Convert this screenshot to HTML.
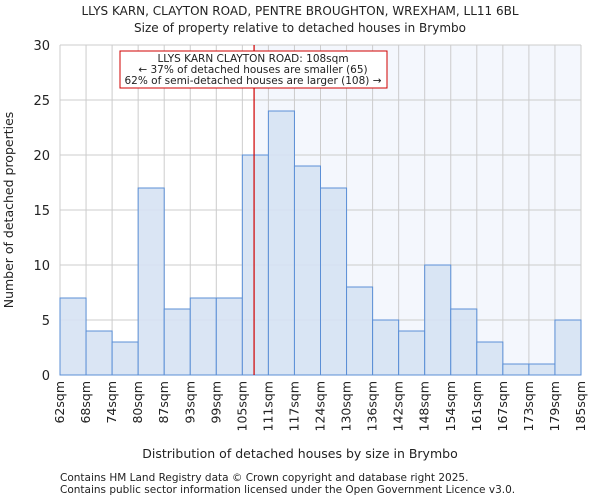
<!DOCTYPE html>
<html><head><meta charset="utf-8"><style>
body{margin:0;background:#fff;font-family:"DejaVu Sans","Liberation Sans",sans-serif}
svg text{font-family:"DejaVu Sans","Liberation Sans",sans-serif;fill:#222}
</style></head><body>
<svg id="c" width="600" height="500">
<text x="300" y="15" text-anchor="middle" font-size="12">LLYS KARN, CLAYTON ROAD, PENTRE BROUGHTON, WREXHAM, LL11 6BL</text>
<text x="300" y="32" text-anchor="middle" font-size="12">Size of property relative to detached houses in Brymbo</text>
<text x="300" y="458" text-anchor="middle" font-size="12.5">Distribution of detached houses by size in Brymbo</text>
<text transform="translate(13,210) rotate(-90)" text-anchor="middle" font-size="12.5">Number of detached properties</text>
<text x="60" y="481" font-size="10.5">Contains HM Land Registry data © Crown copyright and database right 2025.</text>
<text x="60" y="493" font-size="10.5">Contains public sector information licensed under the Open Government Licence v3.0.</text>
<g id="plot"></g>
</svg>
<script>
const categories=["62sqm","68sqm","74sqm","80sqm","87sqm","93sqm","99sqm","105sqm","111sqm","117sqm","124sqm","130sqm","136sqm","142sqm","148sqm","154sqm","161sqm","167sqm","173sqm","179sqm","185sqm"];
const counts=[7,4,3,17,6,7,7,20,24,19,17,8,5,4,10,6,3,1,1,5];
const yTicks=[0,5,10,15,20,25,30];
const markerBin=7.45;
const NS="http://www.w3.org/2000/svg";
const L=60,R=581,T=45,B=375,yMax=30;
const bw=(R-L)/counts.length;
const xs=i=>L+i*bw;
const ys=v=>B-(v/yMax)*(B-T);
const g=document.getElementById('plot');
function mk(t,a){const e=document.createElementNS(NS,t);for(const k in a)e.setAttribute(k,a[k]);g.appendChild(e);return e;}
const mx=xs(markerBin);
let e=mk('rect',{x:mx,y:T,width:R-mx,height:B-T,fill:'#f4f7fd'});


for(let i=0;i<=counts.length;i++){e=mk('line',{x1:xs(i),x2:xs(i),y1:T,y2:B,stroke:'#cccccc'});

}
yTicks.forEach(v=>{e=mk('line',{x1:L,x2:R,y1:ys(v),y2:ys(v),stroke:'#cccccc'});


const t=mk('text',{x:L-10,y:ys(v)+5,'text-anchor':'end','font-size':'13'});t.textContent=v;

});
counts.forEach((v,i)=>{e=mk('rect',{x:xs(i),y:ys(v),width:bw,height:B-ys(v),fill:'#d6e2f3','fill-opacity':'0.9',stroke:'#5b8fd6','stroke-width':'1'});

});
categories.forEach((c,i)=>{const x=xs(i)+4;const t=mk('text',{x:x,y:B+6,transform:`rotate(-90 ${x} ${B+6})`,'text-anchor':'end','font-size':'12.5'});t.textContent=c;

});
e=mk('line',{x1:mx,x2:mx,y1:T,y2:B,stroke:'#d00000','stroke-width':'1.2'});


e=mk('rect',{x:120,y:51,width:267,height:37,fill:'#fff',stroke:'#d00000'});


["LLYS KARN CLAYTON ROAD: 108sqm","← 37% of detached houses are smaller (65)","62% of semi-detached houses are larger (108) →"].forEach((s,i)=>{const t=mk('text',{x:253,y:62+i*11,'text-anchor':'middle','font-size':'10.5'});t.textContent=s;

});
</script>
</body></html>
